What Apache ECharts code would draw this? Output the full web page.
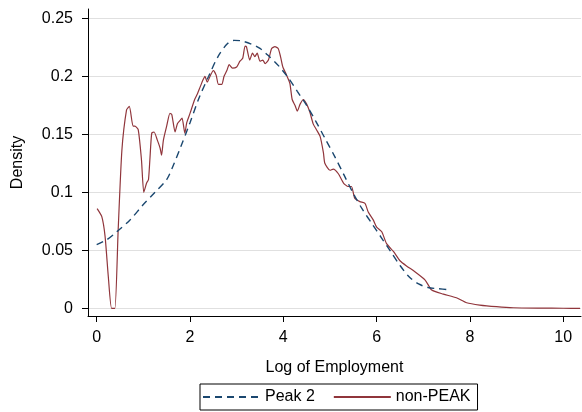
<!DOCTYPE html>
<html>
<head>
<meta charset="utf-8">
<script src="https://cdn.jsdelivr.net/npm/echarts@6/dist/echarts.min.js"></script>
<style>
  html, body { margin: 0; padding: 0; background: #fff; }
  #chart { width: 582px; height: 412px; }
</style>
</head>
<body>
<div id="chart"></div>
<script>
// 刻度
var xTicks = [0, 2, 4, 6, 8, 10];
var yTicks = [0, 0.05, 0.1, 0.15, 0.2, 0.25];

// Peak 2 (虚线)
var peakX = [0, 0.21, 0.43, 0.71, 0.99, 1.25, 1.5, 1.65, 1.8, 2.0, 2.2, 2.4, 2.6, 2.8, 2.95, 3.1, 3.3, 3.5, 3.7, 3.9,
             4.1, 4.3, 4.5, 4.7, 4.9, 5.1, 5.3, 5.5, 5.7, 5.9, 6.1, 6.3, 6.5, 6.7, 6.9, 7.1, 7.3, 7.57];
var peakY = [0.055, 0.059, 0.066, 0.076, 0.089, 0.1, 0.111, 0.124, 0.139, 0.16, 0.182, 0.2, 0.217, 0.228, 0.231, 0.2305, 0.228, 0.224, 0.217, 0.209,
             0.199, 0.187, 0.175, 0.161, 0.146, 0.131, 0.115, 0.099, 0.085, 0.073, 0.061, 0.049, 0.037, 0.027, 0.021, 0.018, 0.017, 0.016];

// non-PEAK (实线)
var nonPeakX = [0.01, 0.11, 0.18, 0.25, 0.32, 0.39, 0.46, 0.54, 0.64, 0.7, 0.78, 0.82, 0.89, 0.96, 1.01, 1.07, 1.11, 1.14, 1.18, 1.23,
                1.3, 1.36, 1.39, 1.43, 1.5, 1.57, 1.61, 1.68, 1.73, 1.79, 1.83, 1.89, 1.93, 2.0, 2.1, 2.16, 2.21, 2.28, 2.32, 2.37,
                2.44, 2.5, 2.56, 2.61, 2.68, 2.73, 2.79, 2.84, 2.91, 3.0, 3.07, 3.13, 3.18, 3.21, 3.28, 3.34, 3.39, 3.44, 3.5, 3.56,
                3.61, 3.68, 3.75, 3.82, 3.89, 3.94, 3.99, 4.07, 4.14, 4.19, 4.25, 4.3, 4.36, 4.43, 4.5, 4.57, 4.64, 4.71, 4.79, 4.86,
                4.89, 5.0, 5.07, 5.18, 5.29, 5.39, 5.46, 5.53, 5.64, 5.75, 5.82, 5.93, 6.0, 6.11, 6.21, 6.36, 6.5, 6.64, 6.82, 7.04,
                7.18, 7.43, 7.71, 7.93, 8.21, 8.57, 8.93, 9.5, 10.0, 10.36];
var nonPeakY = [0.086, 0.079, 0.062, 0.027, 0, 0, 0.067, 0.136, 0.171, 0.174, 0.157, 0.157, 0.154, 0.128, 0.1, 0.108, 0.111, 0.128, 0.151, 0.152,
                0.145, 0.138, 0.132, 0.145, 0.157, 0.168, 0.167, 0.152, 0.159, 0.162, 0.164, 0.151, 0.16, 0.168, 0.18, 0.185, 0.19, 0.197, 0.2, 0.195,
                0.201, 0.205, 0.201, 0.193, 0.193, 0.2, 0.205, 0.21, 0.207, 0.208, 0.213, 0.2155, 0.226, 0.2255, 0.214, 0.22, 0.217, 0.22, 0.213, 0.214,
                0.211, 0.214, 0.224, 0.2255, 0.224, 0.217, 0.208, 0.201, 0.194, 0.18, 0.175, 0.17, 0.176, 0.18, 0.176, 0.169, 0.159, 0.154, 0.148, 0.134,
                0.125, 0.119, 0.12, 0.116, 0.108, 0.105, 0.105, 0.095, 0.092, 0.0905, 0.083, 0.076, 0.07, 0.066, 0.056, 0.049, 0.041, 0.0365, 0.0316, 0.0244,
                0.0158, 0.0123, 0.0091, 0.0048, 0.0028, 0.0014, 0.0005, 0.0002, 0.0001, 0];

function pairs(xs, ys) {
    return xs.map(function(x, i) { return [x, ys[i]]; });
}

var font = 'Liberation Sans';
var chart = echarts.init(document.getElementById('chart'));
var option = {
    backgroundColor: '#fff',
    animation: false,
    textStyle: { fontFamily: font },
    grid: { left: 88, right: 1, top: 9, bottom: 96, containLabel: false },
    legend: {
        left: 200,
        top: 384,
        padding: [5, 7, 5, 2],
        borderColor: '#000',
        borderWidth: 1,
        itemWidth: 57,
        itemHeight: 14,
        itemGap: 18,
        itemStyle: { opacity: 0 },
        textStyle: { fontFamily: font, fontSize: 16, color: '#000' },
        data: ['Peak 2', 'non-PEAK']
    },
    xAxis: {
        type: 'value',
        min: -0.186,
        max: 10.38,
        name: 'Log of Employment',
        nameLocation: 'middle',
        nameGap: 44,
        nameTextStyle: { fontFamily: font, fontSize: 16, color: '#000' },
        axisLine: { show: true, onZero: false, lineStyle: { color: '#000', width: 1 } },
        axisTick: { show: true, length: 6, customValues: xTicks, lineStyle: { color: '#000' } },
        axisLabel: { customValues: xTicks, margin: 14, fontSize: 16, color: '#000', fontFamily: font },
        splitLine: { show: false }
    },
    yAxis: {
        type: 'value',
        min: -0.0066,
        max: 0.258,
        name: 'Density',
        nameLocation: 'middle',
        nameGap: 62,
        nameTextStyle: { fontFamily: font, fontSize: 16, color: '#000' },
        axisLine: { show: true, onZero: false, lineStyle: { color: '#000', width: 1 } },
        axisTick: { show: true, length: 6, customValues: yTicks, lineStyle: { color: '#000' } },
        axisLabel: { customValues: yTicks, margin: 15, fontSize: 16, color: '#000', fontFamily: font },
        splitLine: { show: true, lineStyle: { color: '#e0e0e0', width: 1 } }
    },
    series: [{
            name: 'Peak 2',
            type: 'line',
            data: pairs(peakX, peakY),
            symbol: 'none',
            smooth: 0.3,
            lineStyle: { color: '#1a476f', width: 1.4, type: [7, 5] },
            itemStyle: { color: '#1a476f' },
            z: 3
        },
        {
            name: 'non-PEAK',
            type: 'line',
            data: pairs(nonPeakX, nonPeakY),
            symbol: 'none',
            smooth: 0.2,
            lineStyle: { color: '#90353b', width: 1.2 },
            itemStyle: { color: '#90353b' },
            z: 2
        }
    ]
};
chart.setOption(option);
</script>
</body>
</html>
